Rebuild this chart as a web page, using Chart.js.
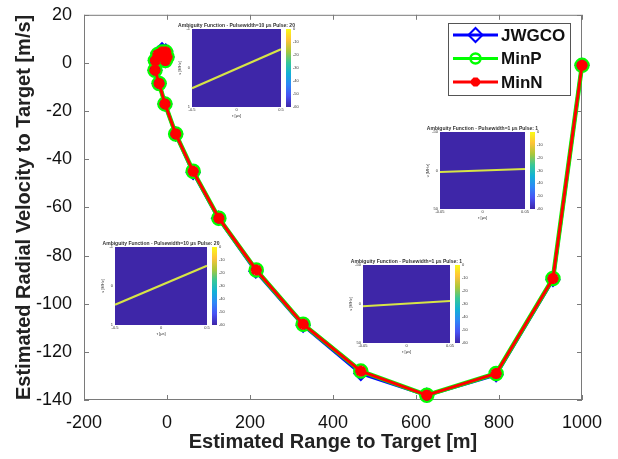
<!DOCTYPE html>
<html>
<head>
<meta charset="utf-8">
<script src="https://cdn.jsdelivr.net/npm/chart.js@4.4.0/dist/chart.umd.min.js"></script>
<style>
  html, body { margin: 0; padding: 0; background: #fff; }
  #wrap { width: 618px; height: 459px; }
</style>
</head>
<body>
<div id="wrap"><canvas id="chart" width="618" height="459"></canvas></div>
<script>
  // ===== Data =====
  const xTicks = [-200, 0, 200, 400, 600, 800, 1000];
  const yTicks = [-140, -120, -100, -80, -60, -40, -20, 0, 20];

  const rangeJWGCO = [-4, 0, -3, -12, -22, -28, -29, -19, -5, 21, 63, 124, 214, 328, 467, 626, 793, 930, 1000];
  const velJWGCO   = [1, 2.5, 5, 5.5, 4, 1, -3, -8.5, -17, -29.5, -45.5, -64.5, -86.5, -109, -129, -138, -129.5, -90, -1];

  const rangeMinP = [-4, 0, -3, -12, -22, -28, -29, -19, -5, 21, 63, 125, 215, 328, 467, 626, 793, 930, 1000];
  const velMinP   = [1, 2.5, 4.5, 4.5, 3.5, 1, -3, -8.5, -17, -29.5, -45, -64.5, -86, -108.5, -128, -138, -129, -89.5, -1];

  const rangeMinN = [-4, 0, -3, -12, -22, -28, -29, -19, -5, 21, 63, 125, 215, 328, 467, 626, 793, 930, 1000];
  const velMinN   = [1, 2.5, 4.5, 4.5, 3.5, 1, -3, -8.5, -17, -29.5, -45, -64.5, -86, -108.5, -128, -138, -129, -89.5, -1];

  const toPts = (xs, ys) => xs.map((x, i) => ({ x: x, y: ys[i] }));

  // ===== Inset ambiguity plots (decoration) =====
  const parula = [
    [62, 38, 168], [72, 82, 244], [46, 135, 247], [18, 177, 214],
    [55, 200, 151], [171, 199, 57], [254, 195, 56], [249, 251, 21]
  ];
  const insets = [
    { x: 192, y: 29, w: 89, h: 78, a: 0.76, b: 0.26, lw: 2.2, pw: "10", pulse: "20", yl: ["-1", "0", "1"], xl: ["-0.5", "0", "0.5"] },
    { x: 440, y: 132, w: 85, h: 77, a: 0.52, b: 0.48, lw: 2, pw: "1", pulse: "1", yl: ["-50", "0", "50"], xl: ["-0.05", "0", "0.05"] },
    { x: 115, y: 247, w: 92, h: 78, a: 0.74, b: 0.24, lw: 2.2, pw: "10", pulse: "20", yl: ["-1", "0", "1"], xl: ["-0.5", "0", "0.5"] },
    { x: 363, y: 265, w: 87, h: 78, a: 0.53, b: 0.46, lw: 2, pw: "1", pulse: "1", yl: ["-50", "0", "50"], xl: ["-0.05", "0", "0.05"] }
  ];
  const cbLabels = ["0", "-10", "-20", "-30", "-40", "-50", "-60"];

  function drawInset(ctx, s) {
    ctx.save();
    ctx.fillStyle = "rgb(62,38,168)";
    ctx.fillRect(s.x, s.y, s.w, s.h);
    ctx.strokeStyle = "rgb(215,228,70)";
    ctx.lineWidth = s.lw;
    ctx.beginPath();
    ctx.moveTo(s.x, s.y + s.a * s.h);
    ctx.lineTo(s.x + s.w, s.y + s.b * s.h);
    ctx.stroke();
    // colorbar
    const cx = s.x + s.w + 5;
    const g = ctx.createLinearGradient(0, s.y + s.h, 0, s.y);
    parula.forEach((c, i) => g.addColorStop(i / (parula.length - 1), "rgb(" + c.join(",") + ")"));
    ctx.fillStyle = g;
    ctx.fillRect(cx, s.y, 5, s.h);
    // texts
    ctx.fillStyle = "#333";
    ctx.font = "bold 5px 'Liberation Sans', Arial, sans-serif";
    ctx.textAlign = "center";
    ctx.textBaseline = "bottom";
    ctx.fillText("Ambiguity Function - Pulsewidth=" + s.pw + " \u03bcs Pulse: " + s.pulse, s.x + s.w / 2, s.y - 1);
    ctx.font = "4px 'Liberation Sans', Arial, sans-serif";
    ctx.textAlign = "right";
    ctx.textBaseline = "middle";
    s.yl.forEach((t, i) => ctx.fillText(t, s.x - 2, s.y + i * s.h / 2));
    ctx.textAlign = "center";
    ctx.textBaseline = "top";
    s.xl.forEach((t, i) => ctx.fillText(t, s.x + i * s.w / 2, s.y + s.h + 1));
    ctx.fillText("\u03c4 [\u03bcs]", s.x + s.w / 2, s.y + s.h + 7);
    ctx.textAlign = "left";
    ctx.textBaseline = "middle";
    cbLabels.forEach((t, i) => ctx.fillText(t, cx + 7, s.y + i * s.h / 6));
    ctx.translate(s.x - 12, s.y + s.h / 2);
    ctx.rotate(-Math.PI / 2);
    ctx.textAlign = "center";
    ctx.fillText("\u03bd [MHz]", 0, 0);
    ctx.restore();
  }

  // ===== Plugins =====
  const framePlugin = {
    id: "frame",
    beforeDatasetsDraw(chart) {
      const { ctx, chartArea: a, scales } = chart;
      ctx.save();
      ctx.strokeStyle = "#7a7a7a";
      ctx.lineWidth = 1;
      ctx.strokeRect(a.left + 0.5, a.top + 0.5, a.right - a.left - 1, a.bottom - a.top - 1);
      ctx.beginPath();
      xTicks.forEach(v => {
        const px = Math.round(scales.x.getPixelForValue(v)) + 0.5;
        ctx.moveTo(px, a.bottom); ctx.lineTo(px, a.bottom - 5);
        ctx.moveTo(px, a.top); ctx.lineTo(px, a.top + 5);
      });
      yTicks.forEach(v => {
        const py = Math.round(scales.y.getPixelForValue(v)) + 0.5;
        ctx.moveTo(a.left, py); ctx.lineTo(a.left + 5, py);
        ctx.moveTo(a.right, py); ctx.lineTo(a.right - 5, py);
      });
      ctx.stroke();
      ctx.restore();
    },
    afterDatasetsDraw(chart) {
      const ctx = chart.ctx;
      insets.forEach(s => drawInset(ctx, s));

      // legend box
      ctx.save();
      ctx.fillStyle = "#fff";
      ctx.fillRect(448, 23, 122, 72);
      ctx.strokeStyle = "#555";
      ctx.lineWidth = 1;
      ctx.strokeRect(448.5, 23.5, 122, 72);
      chart.data.datasets.forEach((ds, i) => {
        const y = 35 + i * 23.5;
        ctx.strokeStyle = ds.borderColor;
        ctx.lineWidth = 3;
        ctx.beginPath();
        ctx.moveTo(453, y); ctx.lineTo(498, y);
        ctx.stroke();
        ctx.strokeStyle = ds.pointBorderColor;
        ctx.fillStyle = ds.pointBackgroundColor;
        ctx.lineWidth = ds.pointBorderWidth;
        Chart.helpers.drawPoint(ctx, { pointStyle: ds.pointStyle, radius: ds.legendRadius, rotation: 0, borderWidth: ds.pointBorderWidth }, 475.5, y);
        ctx.fillStyle = "#111";
        ctx.font = "bold 17px 'Liberation Sans', Arial, sans-serif";
        ctx.textAlign = "left";
        ctx.textBaseline = "middle";
        ctx.fillText(ds.label, 501, y + 1);
      });
      ctx.restore();
    }
  };

  // ===== Chart =====
  const tickFont = { family: "'Liberation Sans', Arial, sans-serif", size: 18 };
  const titleFont = { family: "'Liberation Sans', Arial, sans-serif", size: 20, weight: "bold" };

  new Chart(document.getElementById("chart"), {
    type: "scatter",
    data: {
      datasets: [
        {
          label: "JWGCO", data: toPts(rangeJWGCO, velJWGCO), showLine: true, order: 3, clip: false,
          borderColor: "#0000ff", borderWidth: 3.5,
          pointStyle: "rectRot", pointRadius: 6.5, legendRadius: 7, pointBorderWidth: 2,
          pointBorderColor: "#0000ff", pointBackgroundColor: "rgba(255,255,255,0)"
        },
        {
          label: "MinP", data: toPts(rangeMinP, velMinP), showLine: true, order: 2, clip: false,
          borderColor: "#00ff00", borderWidth: 4.5,
          pointStyle: "circle", pointRadius: 6.5, legendRadius: 5, pointBorderWidth: 2.5,
          pointBorderColor: "#00ff00", pointBackgroundColor: "rgba(255,255,255,0)"
        },
        {
          label: "MinN", data: toPts(rangeMinN, velMinN), showLine: true, order: 1, clip: false,
          borderColor: "#ff0000", borderWidth: 3,
          pointStyle: "star", pointRadius: 5.5, legendRadius: 4.5, pointBorderWidth: 3.5,
          pointBorderColor: "#ff0000", pointBackgroundColor: "#ff0000"
        }
      ]
    },
    options: {
      responsive: false,
      animation: false,
      devicePixelRatio: 1,
      layout: { padding: { top: 11, right: 36, left: 0, bottom: 0 } },
      plugins: { legend: { display: false }, tooltip: { enabled: false } },
      elements: { line: { tension: 0 } },
      scales: {
        x: {
          type: "linear", min: -200, max: 1000,
          afterBuildTicks: s => { s.ticks = xTicks.map(v => ({ value: v })); },
          afterFit: s => { s.height = 59; },
          grid: { display: false },
          border: { display: false },
          ticks: { font: tickFont, color: "#111", padding: 4, maxRotation: 0, callback: v => String(v) },
          title: { display: true, text: "Estimated Range to Target [m]", font: titleFont, color: "#222", padding: { top: 0, bottom: 5 } }
        },
        y: {
          type: "linear", min: -140, max: 20,
          afterBuildTicks: s => { s.ticks = yTicks.map(v => ({ value: v })); },
          afterFit: s => { s.width = 84; },
          grid: { display: false },
          border: { display: false },
          ticks: { font: tickFont, color: "#111", padding: 4, callback: v => String(v) },
          title: { display: true, text: "Estimated Radial Velocity to Target [m/s]", font: titleFont, color: "#222", padding: { top: 12, bottom: 0 } }
        }
      }
    },
    plugins: [framePlugin]
  });
</script>
</body>
</html>
